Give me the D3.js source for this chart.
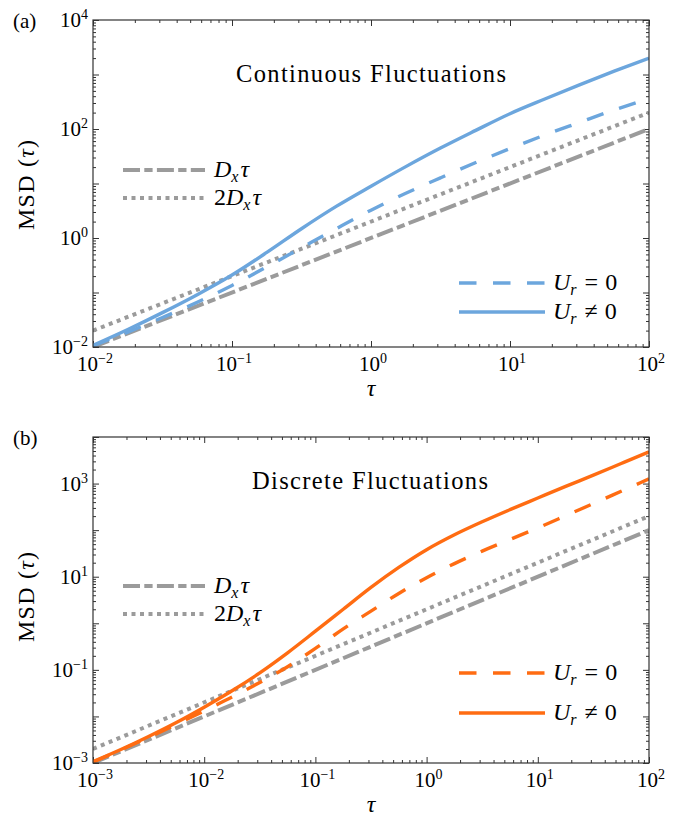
<!DOCTYPE html>
<html>
<head>
<meta charset="utf-8">
<script src="https://cdn.jsdelivr.net/npm/d3@7"></script>
<style>
  body { margin: 0; background: #fff; }
  svg text { font-family: "Liberation Serif", "Times New Roman", Times, serif; fill: #000; }
</style>
</head>
<body>
<svg id="chart" width="676" height="817"></svg>
<script>
// values
const tauA = [0.01, 0.0178, 0.0316, 0.0562, 0.1, 0.178, 0.316, 0.562, 1, 1.78, 3.16, 5.62, 10, 17.8, 31.6, 56.2, 100];
const contStill = [0.0105, 0.0188, 0.0347, 0.0661, 0.135, 0.295, 0.661, 1.48, 3.24, 6.61, 12.7, 24.0, 43.7, 77.6, 132, 224, 363];   // U_r = 0
const contMoving = [0.0107, 0.0209, 0.0427, 0.0912, 0.209, 0.543, 1.48, 3.80, 8.91, 20.4, 44.7, 93.3, 191, 355, 646, 1150, 1995]; // U_r != 0

const tauB = [0.001, 0.00178, 0.00316, 0.00562, 0.01, 0.0178, 0.0316, 0.0562, 0.1, 0.178, 0.316, 0.562, 1, 1.78, 3.16, 5.62, 10, 17.8, 31.6, 56.2, 100];
const discStill = [0.00105, 0.00191, 0.00355, 0.00676, 0.0132, 0.0260, 0.0537, 0.117, 0.288, 0.759, 1.82, 4.37, 9.55, 19.1, 35.5, 63.1, 112, 204, 372, 684, 1259];
const discMoving = [0.00107, 0.00195, 0.00372, 0.00741, 0.0158, 0.0355, 0.0861, 0.232, 0.676, 2.00, 5.89, 15.8, 38.0, 79.4, 151, 275, 490, 871, 1514, 2692, 4786];

const refTauA = [0.01, 100];
const dxTauA = [0.01, 100];
const twoDxTauA = [0.02, 200];
const refTauB = [0.001, 100];
const dxTauB = [0.001, 100];
const twoDxTauB = [0.002, 200];

const xTicksA = [-2, -1, 0, 1, 2];
const yTicksA = [-2, 0, 2, 4];
const xTicksB = [-3, -2, -1, 0, 1, 2];
const yTicksB = [-3, -1, 1, 3];

const blue = "#6ca6dd";
const orange = "#ff6c12";
const grey = "#9b9b9b";
const dashDot = "17,4.3,8.3,4.3";
const dots = "4,4.5";
const dashes = "17.5,16.5";

const svg = d3.select("#chart");

function supLabel(sel, exp) {
  sel.append("tspan").text("10");
  sel.append("tspan").attr("dy", -8).style("font-size", "14px")
    .text(exp < 0 ? "\u2212" + (-exp) : String(exp));
}

function drawPanel(p) {
  const left = 93, right = 649;
  const x = d3.scaleLog().domain(p.xDomain).range([left, right]);
  const y = d3.scaleLog().domain(p.yDomain).range([p.bottom, p.top]);

  const g = svg.append("g");
  const clipId = "clip" + p.id;
  g.append("clipPath").attr("id", clipId).append("rect")
    .attr("x", left).attr("y", p.top).attr("width", right - left).attr("height", p.bottom - p.top);

  // ticks, inward on all four sides
  const minorX = [], minorY = [];
  for (let e = Math.log10(p.xDomain[0]); e < Math.log10(p.xDomain[1]); e++)
    for (let k = 2; k <= 9; k++) minorX.push(k * Math.pow(10, e));
  for (let e = Math.log10(p.yDomain[0]); e < Math.log10(p.yDomain[1]); e++)
    for (let k = 2; k <= 9; k++) minorY.push(k * Math.pow(10, e));
  const majorX = d3.range(Math.log10(p.xDomain[0]), Math.log10(p.xDomain[1]) + 1).map(e => Math.pow(10, e));
  const majorY = d3.range(Math.log10(p.yDomain[0]), Math.log10(p.yDomain[1]) + 1).map(e => Math.pow(10, e));

  const axes = [
    [d3.axisBottom(x), `translate(0,${p.bottom})`, minorX, majorX],
    [d3.axisTop(x), `translate(0,${p.top})`, minorX, majorX],
    [d3.axisLeft(y), `translate(${left},0)`, minorY, majorY],
    [d3.axisRight(y), `translate(${right},0)`, minorY, majorY]
  ];
  axes.forEach(([ax, tr, minor, major]) => {
    g.append("g").attr("transform", tr)
      .call(ax.tickValues(minor).tickSize(-3).tickFormat(""))
      .select(".domain").remove();
    g.append("g").attr("transform", tr)
      .call(ax.tickValues(major).tickSize(-6).tickFormat(""))
      .select(".domain").remove();
  });
  g.selectAll(".tick line").attr("stroke", "#333").attr("stroke-width", 1);

  // curves
  const line = d3.line().x(d => x(d[0])).y(d => y(d[1])).curve(d3.curveMonotoneX);
  const plot = g.append("g").attr("clip-path", `url(#${clipId})`);
  const series = [
    { t: p.refTau, v: p.dx, color: grey, dash: dashDot, w: 4 },
    { t: p.refTau, v: p.twoDx, color: grey, dash: dots, w: 4 },
    { t: p.tau, v: p.still, color: p.color, dash: dashes, w: 3.4 },
    { t: p.tau, v: p.moving, color: p.color, dash: null, w: 3.4 }
  ];
  series.forEach(s => {
    plot.append("path")
      .datum(s.t.map((t, i) => [t, s.v[i]]))
      .attr("d", line)
      .attr("fill", "none")
      .attr("stroke", s.color)
      .attr("stroke-width", s.w)
      .attr("stroke-dasharray", s.dash);
  });

  g.append("rect").attr("x", left).attr("y", p.top)
    .attr("width", right - left).attr("height", p.bottom - p.top)
    .attr("fill", "none").attr("stroke", "#333").attr("stroke-width", 1.2);

  // tick labels
  p.xTicks.forEach(e => {
    const t = g.append("text").attr("x", x(Math.pow(10, e)) + 2).attr("y", p.bottom + 24)
      .attr("text-anchor", "middle").style("font-size", "21px");
    supLabel(t, e);
  });
  p.yTicks.forEach(e => {
    const t = g.append("text").attr("x", 88).attr("y", y(Math.pow(10, e)) + 7)
      .attr("text-anchor", "end").style("font-size", "21px");
    supLabel(t, e);
  });

  g.append("text").attr("x", 371).attr("y", p.bottom + 49)
    .attr("text-anchor", "middle").style("font-size", "24px").style("font-style", "italic").text("\u03c4");
  const yl = g.append("text")
    .attr("transform", `translate(34,${p.yLabelY}) rotate(-90)`)
    .attr("text-anchor", "middle").style("font-size", "24px")
    .attr("textLength", 90).attr("lengthAdjust", "spacing");
  yl.append("tspan").text("MSD (");
  yl.append("tspan").style("font-style", "italic").text("\u03c4");
  yl.append("tspan").text(")");

  g.append("text").attr("x", 13).attr("y", p.top + 8).style("font-size", "21px").text(p.tag);
  g.append("text").attr("x", p.titleX).attr("y", p.titleY)
    .attr("textLength", p.titleW).attr("lengthAdjust", "spacing")
    .style("font-size", "24.5px").text(p.title);

  // legends
  const legGrey = [
    { y: p.legGreyY[0], dash: dashDot, pre: "" },
    { y: p.legGreyY[1], dash: dots, pre: "2" }
  ];
  legGrey.forEach(l => {
    g.append("line").attr("x1", 123).attr("x2", 205).attr("y1", l.y).attr("y2", l.y)
      .attr("stroke", grey).attr("stroke-width", 4).attr("stroke-dasharray", l.dash);
    const t = g.append("text").attr("x", 214).attr("y", l.y + 7).style("font-size", "24px");
    if (l.pre) t.append("tspan").text(l.pre);
    t.append("tspan").style("font-style", "italic").text("D");
    t.append("tspan").style("font-style", "italic").style("font-size", "16px").attr("dy", 5).text("x");
    t.append("tspan").style("font-style", "italic").attr("dy", -5).attr("dx", 2).text("\u03c4");
  });
  const legCol = [
    { y: p.legColY[0], dash: dashes, sign: "=" },
    { y: p.legColY[1], dash: null, sign: "\u2260" }
  ];
  legCol.forEach(l => {
    g.append("line").attr("x1", 459).attr("x2", 545).attr("y1", l.y).attr("y2", l.y)
      .attr("stroke", p.color).attr("stroke-width", 3.4).attr("stroke-dasharray", l.dash);
    const t = g.append("text").attr("x", 553).attr("y", l.y + 7).style("font-size", "24px");
    t.append("tspan").style("font-style", "italic").text("U");
    t.append("tspan").style("font-style", "italic").style("font-size", "16px").attr("dy", 5).text("r");
    t.append("tspan").attr("dy", -5).attr("dx", 8).text(l.sign);
    t.append("tspan").attr("dx", 7).text("0");
  });
}

drawPanel({
  id: "a", tag: "(a)", top: 20, bottom: 347, xDomain: [1e-2, 1e2], yDomain: [1e-2, 1e4],
  tau: tauA, still: contStill, moving: contMoving,
  refTau: refTauA, dx: dxTauA, twoDx: twoDxTauA,
  xTicks: xTicksA, yTicks: yTicksA, color: blue,
  title: "Continuous Fluctuations", titleX: 236, titleY: 82, titleW: 270,
  yLabelY: 185, legGreyY: [170, 198], legColY: [283, 312]
});
drawPanel({
  id: "b", tag: "(b)", top: 437, bottom: 763, xDomain: [1e-3, 1e2], yDomain: [1e-3, 1e4],
  tau: tauB, still: discStill, moving: discMoving,
  refTau: refTauB, dx: dxTauB, twoDx: twoDxTauB,
  xTicks: xTicksB, yTicks: yTicksB, color: orange,
  title: "Discrete Fluctuations", titleX: 252, titleY: 489, titleW: 236,
  yLabelY: 597, legGreyY: [586, 614], legColY: [673, 713]
});
</script>
</body>
</html>
